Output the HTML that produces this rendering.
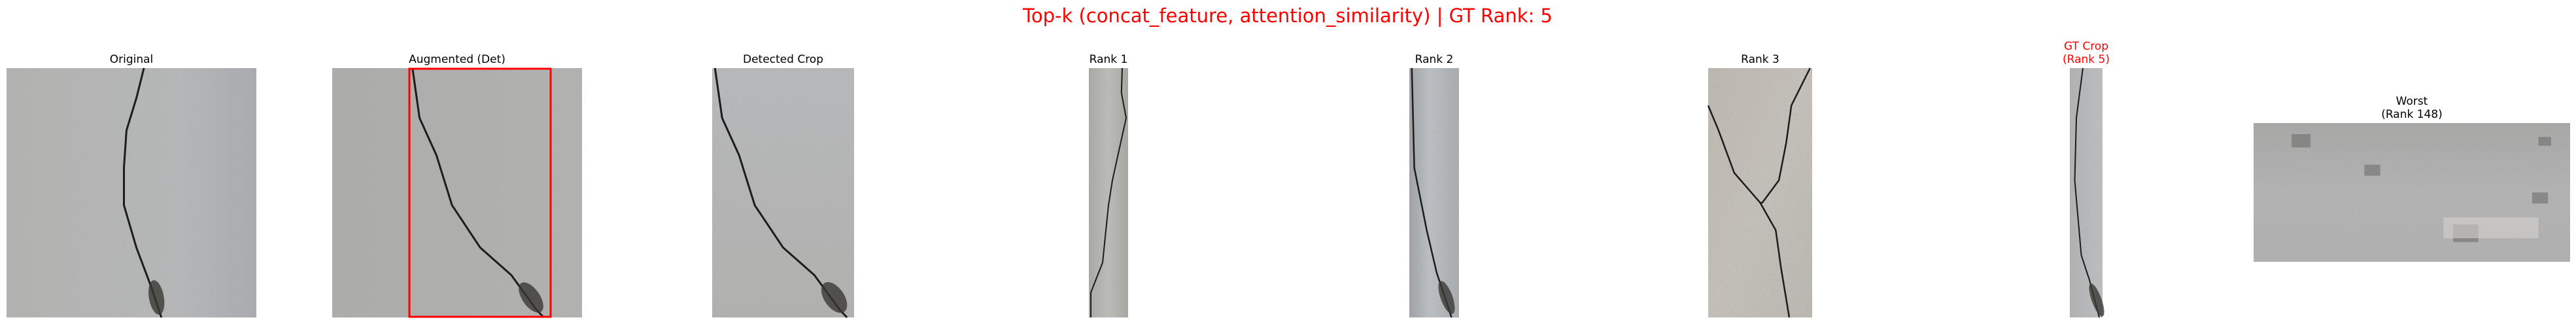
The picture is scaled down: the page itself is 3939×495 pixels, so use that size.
<!DOCTYPE html>
<html><head><meta charset="utf-8"><style>
html,body{margin:0;padding:0;background:#fff;}
svg{display:block;}
text{font-family:"DejaVu Sans","Liberation Sans",sans-serif;}
</style></head><body>
<svg id="fig" width="3939" height="495" viewBox="0 0 3939 495" xmlns="http://www.w3.org/2000/svg">
<defs>
<linearGradient id="gOrig" x1="0" y1="0" x2="1" y2="0"><stop offset="0" stop-color="#b3b3b1"/><stop offset="0.7" stop-color="#b6b7b8"/><stop offset="1" stop-color="#a9abb0"/></linearGradient>
<linearGradient id="gAug" x1="0" y1="0" x2="1" y2="0"><stop offset="0" stop-color="#acacaa"/><stop offset="1" stop-color="#b2b2b0"/></linearGradient>
<linearGradient id="gDet" x1="0" y1="0" x2="0" y2="1"><stop offset="0" stop-color="#b8b9bb"/><stop offset="1" stop-color="#b1b1af"/></linearGradient>
<linearGradient id="gR1" x1="0" y1="0" x2="1" y2="0"><stop offset="0" stop-color="#a9a9a6"/><stop offset="0.5" stop-color="#bcbcb8"/><stop offset="1" stop-color="#a6a6a2"/></linearGradient>
<linearGradient id="gR2" x1="0" y1="0" x2="1" y2="0"><stop offset="0" stop-color="#9ea1a4"/><stop offset="0.4" stop-color="#bcc0c4"/><stop offset="1" stop-color="#a9acae"/></linearGradient>
<linearGradient id="gR3" x1="0" y1="0" x2="1" y2="1"><stop offset="0" stop-color="#bdb8b0"/><stop offset="0.5" stop-color="#c4c0b9"/><stop offset="1" stop-color="#bbb8b2"/></linearGradient>
<linearGradient id="gGT" x1="0" y1="0" x2="1" y2="0"><stop offset="0" stop-color="#b0b2b3"/><stop offset="1" stop-color="#bcbebf"/></linearGradient>
<linearGradient id="gW" x1="0" y1="0" x2="0" y2="1"><stop offset="0" stop-color="#a7a7a6"/><stop offset="0.5" stop-color="#b3b3b3"/><stop offset="1" stop-color="#b0b0b1"/></linearGradient>
<filter id="grain" x="0" y="0" width="100%" height="100%">
<feTurbulence type="fractalNoise" baseFrequency="0.35" numOctaves="2" seed="3"/>
<feColorMatrix type="matrix" values="0 0 0 0 0.4  0 0 0 0 0.4  0 0 0 0 0.4  1.2 0 0 0 -0.45"/>
</filter>
</defs>
<text x="1969" y="34" font-size="29" fill="#ff0000" text-anchor="middle">Top-k (concat_feature, attention_similarity) | GT Rank: 5</text>
<g id="panels"></g>
</svg>
<script>
// Panel data (titles and crack polylines in image-relative coords)
const panelNames = ["original","augmented-det","detected-crop","rank-1","rank-2","rank-3","gt-crop","worst"];
const panelTitles = [["Original"],["Augmented (Det)"],["Detected Crop"],["Rank 1"],["Rank 2"],["Rank 3"],["GT Crop","(Rank 5)"],["Worst","(Rank 148)"]];
const titleColors = ["#000","#000","#000","#000","#000","#000","#ff0000","#000"];
const fills = ["gOrig","gAug","gDet","gR1","gR2","gR3","gGT","gW"];
const boxes = [[10,104,382,381],[508,104,382,381],[1089,104,217,381],[1665,104,60,381],[2155,104,76,381],[2612,104,159,381],[3165,104,50,381],[3446,188,484,212]];
const detCrack = [[0.02,0],[0.07,0.2],[0.19,0.35],[0.3,0.55],[0.5,0.72],[0.72,0.83],[0.9,0.97],[0.95,1]];
const cracks = [
 [[[0.55,0],[0.52,0.12],[0.48,0.25],[0.47,0.4],[0.47,0.55],[0.52,0.72],[0.58,0.88],[0.62,1]]],
 [detCrack.map(p=>[0.31+0.565*p[0],p[1]])],
 [detCrack],
 [[[0.85,0],[0.83,0.1],[0.95,0.2],[0.6,0.45],[0.5,0.55],[0.35,0.78],[0.05,0.9],[0.05,1]]],
 [[[0.05,0],[0.1,0.4],[0.35,0.65],[0.55,0.82],[0.85,1]]],
 [[[0.98,0],[0.8,0.15],[0.75,0.3],[0.68,0.45],[0.52,0.54],[0.5,0.54],[0.65,0.65],[0.7,0.8],[0.78,1]],[[0,0.15],[0.1,0.25],[0.25,0.42],[0.5,0.54]]],
 [[[0.4,0],[0.2,0.2],[0.15,0.45],[0.35,0.75],[0.6,0.85],[0.9,1]]],
 []
];
const crackWidths = [3,3,3,2,2.5,2.5,2,0];
// thick smear at the bottom of cracks: [x, y, rx, ry, angle] relative
const blobs = [
 [[0.6,0.92,0.03,0.07,-10]],
 [[0.31+0.565*0.86,0.92,0.035,0.07,-35]],
 [[0.86,0.92,0.07,0.07,-35]],
 [],
 [[0.75,0.92,0.12,0.07,-20]],
 [],
 [[0.82,0.93,0.15,0.07,-20]],
 []
];
const NS="http://www.w3.org/2000/svg";
const g=document.getElementById("panels");
function mk(t,a){const e=document.createElementNS(NS,t);for(const k in a)e.setAttribute(k,a[k]);return e;}
panelNames.forEach((n,i)=>{
  const [x,y,w,h]=boxes[i];
  const grp=mk("g",{});
  
  
  const r=mk("rect",{x:x,y:y,width:w,height:h,fill:"url(#"+fills[i]+")"});
  
  
  grp.appendChild(r);
  const gr=mk("rect",{x:x,y:y,width:w,height:h,fill:"#888",filter:"url(#grain)",opacity:0.5});
  
  
  grp.appendChild(gr);
  cracks[i].forEach(c=>{
    const d=c.map((p,j)=>(j?"L":"M")+(x+p[0]*w).toFixed(1)+" "+(y+p[1]*h).toFixed(1)).join(" ");
    const pth=mk("path",{d:d,fill:"none",stroke:"#1c1c1c","stroke-width":crackWidths[i],"stroke-linejoin":"round"});
    
    
    grp.appendChild(pth);
  });
  blobs[i].forEach(b=>{
    const cx=x+b[0]*w, cy=y+b[1]*h;
    const el=mk("ellipse",{cx:cx,cy:cy,rx:b[2]*w,ry:b[3]*h,fill:"#3a3835",opacity:0.8,transform:"rotate("+b[4]+" "+cx+" "+cy+")"});
    
    
    grp.appendChild(el);
  });
  if(i===7){
    const spots=[[0.12,0.08,0.06],[0.35,0.3,0.05],[0.9,0.1,0.04],[0.63,0.73,0.08],[0.88,0.5,0.05]];
    spots.forEach(s=>{const c=mk("rect",{x:x+s[0]*w,y:y+s[1]*h,width:s[2]*w,height:s[2]*w*0.7,fill:"#6e6e6e",opacity:0.6});
      
      
      grp.appendChild(c);});
    const l=mk("rect",{x:x+0.6*w,y:y+0.68*h,width:0.3*w,height:0.15*h,fill:"#d6d2cf",opacity:0.6});
    
    
    grp.appendChild(l);
  }
  const lines=panelTitles[i];
  lines.forEach((t,k)=>{
    const tx=mk("text",{x:x+w/2,y:y-8-(lines.length-1-k)*20,"font-size":"17","text-anchor":"middle",fill:titleColors[i]});
    tx.textContent=t;
    
    
    grp.appendChild(tx);
  });
  g.appendChild(grp);
});
const box=mk("rect",{x:626,y:105,width:216,height:379,fill:"none",stroke:"#ff0000","stroke-width":3});


g.appendChild(box);
</script>
</body></html>
